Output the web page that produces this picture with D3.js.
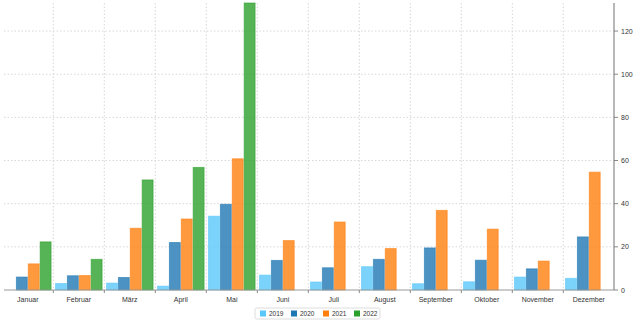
<!DOCTYPE html>
<html><head><meta charset="utf-8">
<script src="https://cdn.jsdelivr.net/npm/d3@7"></script>
<style>
body{margin:0;background:#fff;}
text{font-family:"Liberation Sans",Arial,sans-serif;}
</style></head>
<body><svg id="c" width="633" height="322"></svg>
<script>
const months = ["Januar","Februar","März","April","Mai","Juni","Juli","August","September","Oktober","November","Dezember"];
const years = ["2019","2020","2021","2022"];
const v2019 = [0, 3, 3.2, 1.8, 34.2, 6.9, 3.7, 10.8, 2.9, 3.8, 6, 5.4];
const v2020 = [6, 6.6, 5.8, 22, 39.7, 13.7, 10.3, 14.2, 19.5, 13.8, 9.8, 24.6];
const v2021 = [12.1, 6.7, 28.6, 32.9, 60.8, 22.9, 31.5, 19.2, 36.9, 28.2, 13.4, 54.6];
const v2022 = [22.3, 14.2, 51, 56.8, 133, 0, 0, 0, 0, 0, 0, 0];
const yTicks = [0, 20, 40, 60, 80, 100, 120];
const colors = ["#5ac8fa", "#1f78b4", "#ff7f0e", "#2ca02c"];
const series = [v2019, v2020, v2021, v2022];

const svg = d3.select("#c");
const x = d3.scaleBand().domain(months).range([2.3, 614.3]).paddingInner(0).paddingOuter(0);
const x1 = d3.scaleBand().domain(years).range([0, x.bandwidth()]).paddingOuter(0.145).paddingInner(0);
const y = d3.scaleLinear().domain([0, 133]).range([290, 3]);

// grid
const g = svg.append("g");
g.selectAll("line.h").data(yTicks.filter(d=>d>0)).join("line")
  .attr("x1", 4).attr("x2", 614).attr("y1", d=>y(d)).attr("y2", d=>y(d))
  .attr("stroke", "#d8d8d8").attr("stroke-dasharray", "1.5,2");
g.selectAll("line.v").data(months.slice(1)).join("line")
  .attr("x1", d=>x(d)).attr("x2", d=>x(d)).attr("y1", 3).attr("y2", 290)
  .attr("stroke", "#d8d8d8").attr("stroke-dasharray", "1.5,2");

// bars
months.forEach((m, i) => {
  series.forEach((s, k) => {
    const val = s[i];
    if (!val) return;
    svg.append("rect")
      .attr("x", x(m) + x1(years[k]) + 0.5)
      .attr("y", y(val))
      .attr("width", x1.bandwidth() - 1)
      .attr("height", y(0) - y(val))
      .attr("fill", colors[k]).attr("fill-opacity", 0.8)
      .attr("stroke", colors[k]).attr("stroke-opacity", 0.6).attr("stroke-width", 1);
  });
});

// x axis
const xa = svg.append("g").attr("transform", "translate(0,290)");
xa.append("line").attr("x1", 4).attr("x2", 614).attr("stroke", "#999").attr("stroke-width", 1.2);
xa.selectAll("line.t").data(months.slice(1)).join("line")
  .attr("x1", d=>x(d)).attr("x2", d=>x(d)).attr("y1", 0).attr("y2", 3).attr("stroke", "#888");
xa.selectAll("text").data(months).join("text")
  .attr("x", d=>x(d)+x.bandwidth()/2).attr("y", 12)
  .attr("text-anchor", "middle").attr("font-size", 7).attr("fill", "#333").text(d=>d);

// y axis right
const ya = svg.append("g").attr("transform", "translate(614,0)");
ya.append("line").attr("y1", 3).attr("y2", 290).attr("stroke", "#888").attr("stroke-width", 1.2);
ya.selectAll("line.t").data(yTicks).join("line")
  .attr("x1", 0).attr("x2", 4).attr("y1", d=>y(d)).attr("y2", d=>y(d)).attr("stroke", "#888");
ya.selectAll("text").data(yTicks).join("text")
  .attr("x", 7).attr("y", d=>y(d)+2.5).attr("font-size", 7).attr("fill", "#333").text(d=>d);

// legend
const lg = svg.append("g").attr("transform", "translate(255,308)");
lg.append("rect").attr("width", 125).attr("height", 11).attr("rx", 1.5)
  .attr("fill", "#fff").attr("stroke", "#ddd");
const lx = [5, 36, 68, 99];
years.forEach((yr, k) => {
  lg.append("rect").attr("x", lx[k]).attr("y", 2.5).attr("width", 6).attr("height", 6).attr("fill", colors[k]);
  lg.append("text").attr("x", lx[k]+9).attr("y", 8.3).attr("font-size", 6.5).attr("fill", "#333").text(yr);
});
</script></body></html>
